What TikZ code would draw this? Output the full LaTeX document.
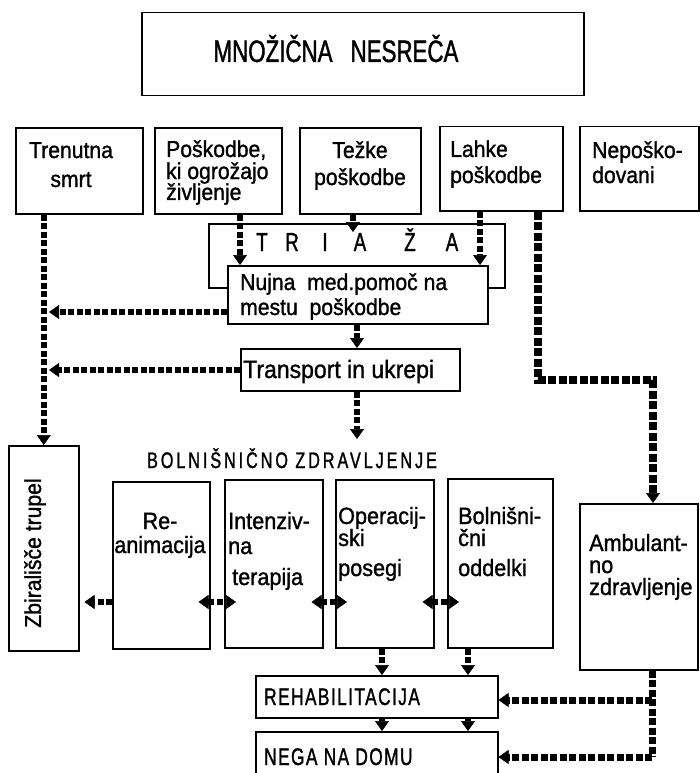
\documentclass[tikz,border=0pt]{standalone}
\usepackage{fontspec}
\setmainfont{Liberation Sans}
\newfontfamily\tfont[FakeStretch=0.92,FakeBold=1.2]{Liberation Sans}
\newfontfamily\capsfont[FakeStretch=0.72,FakeBold=1.2]{Liberation Sans}
\usetikzlibrary{arrows.meta}
\newcommand\stk[1]{\vtop{\baselineskip=0pt\lineskiplimit=-1000pt\lineskip=0pt\relax #1}}
\newcommand\cl[1]{\hbox to 0pt{\hss #1\hss}}
\tikzset{
  box/.style={draw, line width=1.5pt, fill=white, inner sep=0pt, anchor=north west},
  ml/.style={inner sep=0pt, anchor=base west, font=\tfont\fontsize{#1}{#1}\selectfont},
  mc/.style={inner sep=0pt, anchor=base, font=\tfont\fontsize{#1}{#1}\selectfont},
  caps/.style={inner sep=0pt, anchor=base west, font=\capsfont\fontsize{24}{24}\selectfont\addfontfeature{LetterSpace=6}},
  dl/.style={line width=6pt, dash pattern=on 6pt off 2.5pt},
  dlm/.style={line width=7pt, dash pattern=on 7pt off 2.5pt},
  dlw/.style={line width=8pt, dash pattern=on 8pt off 2.5pt},
  tip/.style={-{Triangle[length=10pt,width=14pt,line width=0.5pt]}},
  dtip/.style={{Triangle[length=10pt,width=14pt,line width=0.5pt]}-{Triangle[length=10pt,width=14pt,line width=0.5pt]}},
}
\begin{document}
\begin{tikzpicture}[x=1pt,y=-1pt]
\path[use as bounding box] (0,0) rectangle (700,773);
\clip (0,0) rectangle (700,773);

% title
\node[box, minimum width=442pt, minimum height=83pt] (ti) at (141,12) {};
\node[inner sep=0pt, anchor=base, font=\capsfont\fontsize{31}{31}\selectfont] (tit) at (336,62) {MNOŽIČNA\hspace{18pt}NESREČA};

% first row
\node[box, minimum width=127pt, minimum height=86pt] (tr) at (15,127) {};
\node[box, minimum width=127pt, minimum height=86pt] (pk) at (154,127) {};
\node[box, minimum width=121pt, minimum height=86pt] (tz) at (299,127) {};
\node[box, minimum width=123pt, minimum height=84pt] (lh) at (439,126) {};
\node[box, minimum width=119pt, minimum height=84pt] (np) at (579,126) {};
\node[mc=23] (trt) at (71,158) {\stk{\cl{Trenutna}\vskip29pt\cl{smrt}}};
\node[ml=23] (pkt) at (166,157) {\stk{\hbox{Poškodbe,}\vskip22pt\hbox{ki ogrožajo}\vskip21pt\hbox{življenje}}};
\node[mc=23] (tzt) at (360,158) {\stk{\cl{Težke}\vskip27pt\cl{poškodbe}}};
\node[ml=23] (lht) at (450,157) {\stk{\hbox{Lahke}\vskip26pt\hbox{poškodbe}}};
\node[ml=23] (npt) at (592,158) {\stk{\hbox{Nepoško-}\vskip25pt\hbox{dovani}}};

% triage frame and first aid box
\node[box, fill=none, minimum width=296pt, minimum height=64pt] (tg) at (208,223) {};
\foreach \ch/\xx [count=\i] in {T/262,R/292,I/325,A/360,Ž/410,A/452}
  \node[inner sep=0pt, anchor=base, font=\capsfont\fontsize{26}{26}\selectfont] (tl\i) at (\xx,251) {\ch};
\node[box, minimum width=260pt, minimum height=58pt] (nj) at (227,265) {};
\node[ml=23] (njt) at (240,290) {\stk{\hbox{Nujna\ \ med.pomoč na}\vskip25pt\hbox{mestu\ \ poškodbe}}};

% transport
\node[box, minimum width=219pt, minimum height=42pt] (tp) at (240,348) {};
\node[ml=25] (tpt) at (243,378) {Transport in ukrepi};

% hospital label
\node[inner sep=0pt, anchor=base, font=\capsfont\fontsize{22.5}{22.5}\selectfont\addfontfeature{LetterSpace=13}] (bz) at (292,468) {BOLNIŠNIČNO ZDRAVLJENJE};

% body collection point
\node[inner sep=0pt, rotate=90, font=\tfont\fontsize{23}{23}\selectfont] (zbt) at (35,553) {Zbirališče trupel};
\node[box, fill=none, minimum width=70pt, minimum height=205pt] (zb) at (8,445) {};

% hospital boxes
\node[box, minimum width=97pt, minimum height=167pt] (re) at (112,481) {};
\node[box, minimum width=98pt, minimum height=168pt] (it) at (224,479) {};
\node[box, minimum width=98pt, minimum height=168pt] (op) at (335,479) {};
\node[box, minimum width=105pt, minimum height=169pt] (bo) at (447,478) {};
\node[box, minimum width=118pt, minimum height=166pt] (am) at (579,503) {};
\node[mc=23.5] (ret) at (160,529) {\stk{\cl{Re-}\vskip24pt\cl{animacija}}};
\node[ml=23.5] (itt) at (228,529) {\stk{\hbox{Intenziv-}\vskip25pt\hbox{na}\vskip31pt\hbox{\hspace{4pt}terapija}}};
\node[ml=23.5] (opt) at (338,524) {\stk{\hbox{Operacij-}\vskip22pt\hbox{ski}\vskip30pt\hbox{posegi}}};
\node[ml=23.5] (bot) at (458,524) {\stk{\hbox{Bolnišni-}\vskip22pt\hbox{čni}\vskip30pt\hbox{oddelki}}};
\node[ml=23.5] (amt) at (589,551) {\stk{\hbox{Ambulant-}\vskip22pt\hbox{no}\vskip22pt\hbox{zdravljenje}}};

% rehabilitation and home care
\node[box, minimum width=242pt, minimum height=42pt] (rh) at (255,675) {};
\node[box, minimum width=242pt, minimum height=69pt] (ng) at (255,731) {};
\node[caps] (rht) at (264,705) {REHABILITACIJA};
\node[caps] (ngt) at (264,765) {NEGA NA DOMU};

% connectors
\coordinate (h1) at (49,312);
\coordinate (h2) at (49,370);
\coordinate (p1) at (240,0);
\coordinate (p2) at (353,232);
\coordinate (p3) at (480,0);
\coordinate (p4) at (357,0);
\coordinate (p5) at (357,439);
\coordinate (k1) at (538,380);
\coordinate (k2) at (653,380);
\coordinate (a1) at (652,700);
\coordinate (a2) at (652,757);
\coordinate (b1) at (382,0);
\coordinate (b2) at (468,0);
\coordinate (y6) at (0,602);

\draw[dl,tip] (tr.south -| zb.north) -- (zb.north);
\draw[dl,tip] (nj.west |- h1) -- (h1);
\draw[dl,tip] (tp.west |- h2) -- (h2);
\draw[dl,tip] (pk.south -| p1) -- (nj.north -| p1);
\draw[dl,tip] (tz.south -| p2) -- (p2);
\draw[dl,tip] (lh.south -| p3) -- (nj.north -| p3);
\draw[dl,tip] (nj.south -| p4) -- (tp.north -| p4);
\draw[dl,tip] (tp.south -| p5) -- (p5);
\draw[dlw,tip] (lh.south -| k1) -- (k1) -- (k2) -- (am.north -| k2);
\draw[dlm] (am.south -| a1) -- (a2);
\draw[dlm,tip] (a1) -- (rh.east |- a1);
\draw[dlm,tip] (a2) -- (ng.east |- a2);
\draw[dl,tip] (op.south -| b1) -- (rh.north -| b1);
\draw[dl,tip] (bo.south -| b2) -- (rh.north -| b2);
\draw[dl,tip] (rh.south -| b1) -- (ng.north -| b1);
\draw[dl,tip] (rh.south -| b2) -- (ng.north -| b2);
\draw[dl,tip, shorten >=5pt] (re.west |- y6) -- (zb.east |- y6);
\draw[dl,dtip, shorten <=-12pt, shorten >=-12pt] (re.east |- y6) -- (it.west |- y6);
\draw[dl,dtip, shorten <=-12pt, shorten >=-12pt] (it.east |- y6) -- (op.west |- y6);
\draw[dl,dtip, shorten <=-12pt, shorten >=-12pt] (op.east |- y6) -- (bo.west |- y6);
\end{tikzpicture}
\end{document}
